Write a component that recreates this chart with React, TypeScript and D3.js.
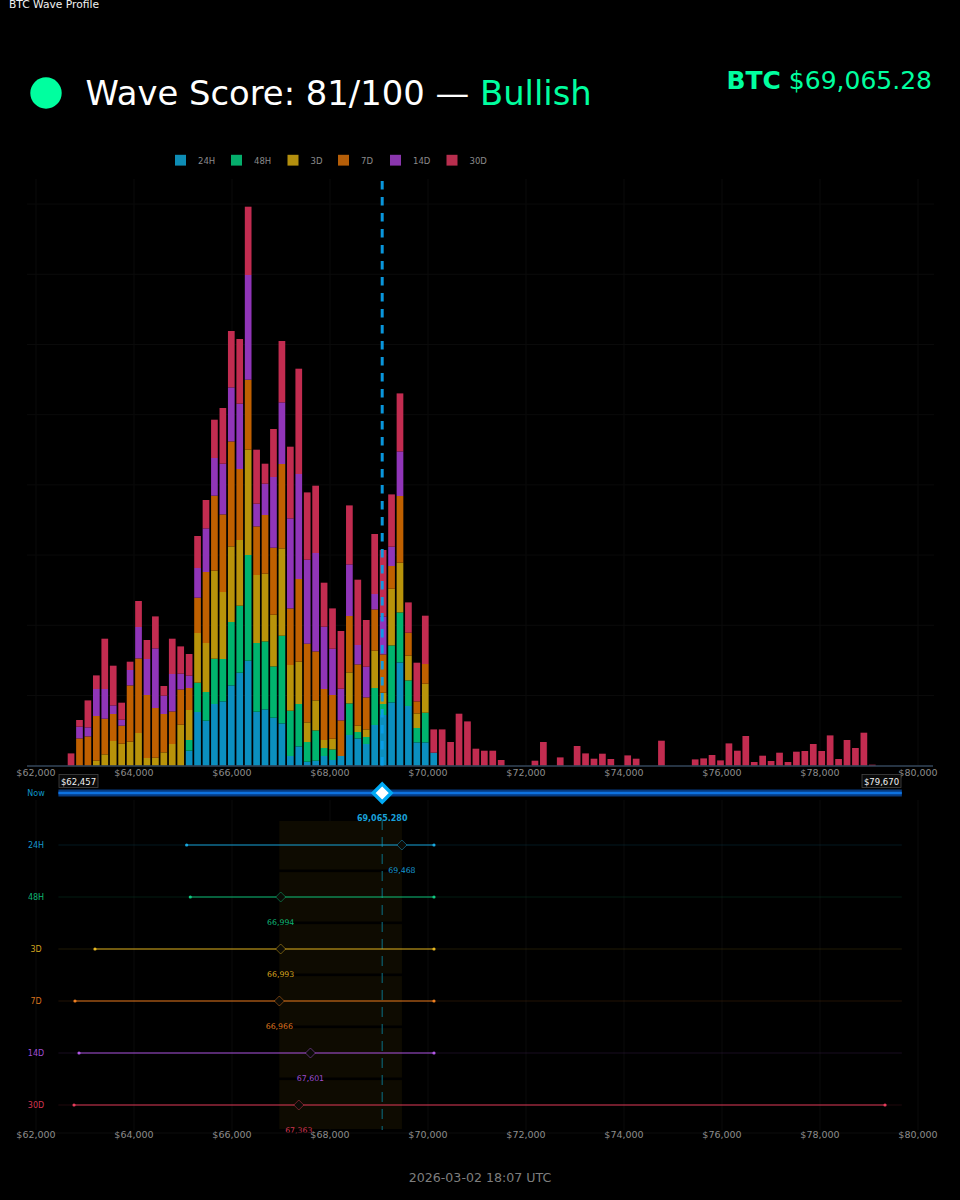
import React from "react";
import * as d3 from "d3";

// Profile bins: index 0..99, each bin = binWidth dollars from rangeLow
const rangeLow = 62457;
const rangeHigh = 79670;
const binCount = 100;
const currentPrice = 69065.28;

const seriesKeys = ["24H", "48H", "3D", "7D", "14D", "30D"];
const seriesColors = ["#0b8fbf", "#00b46e", "#b8930a", "#bf6000", "#9035b8", "#c22c50"];
const legendColors = ["#0e8db5", "#05ae6c", "#b38f0e", "#b55e08", "#8a36ad", "#b82e4e"];
const lineColors = ["#18a8e0", "#10c880", "#e8b820", "#f08020", "#b458e8", "#e83c5c"];

const v24H = [0,0,0,0,0,0,0,0,0,0,0,0,0,0,0,15,53.7,45,61.7,64.3,80.3,93,105,54,56.3,48,42.3,9.7,19.3,4,5,9.7,5.7,9.7,30.7,27.3,21.7,40.7,50.7,63.3,103.3,59.7,23.3,23.3,13];
const v48H = [0,0,0,0,0,0,0,0,0,0,0,0,0,0,0,10.7,29.3,28.7,45.3,42.4,63.4,67,105.7,68.7,68,51.3,87.7,45.3,42.4,19.7,30.3,8,10.6,0,31.6,6.4,7,37,11,57,50,25.6,14.4,29.7,0];
const v3D = [0,0,0,0,5,11.3,24.7,22,24,32.7,7.7,8,13.3,21.7,41,30,49.7,49,88,67,75.6,65.7,105.3,68,67.7,51.7,87.3,45.7,42.3,19.6,30,8,10.7,0,31,6.3,7.6,37.3,11.3,56.7,49.7,24.7,14.6,29,0];
const v7D = [0,0,27.3,29.3,44.7,35.7,27,18,56.3,74.6,63,49.7,38.4,32.6,35.3,22,35.3,71,75,77.6,105,71,70,48.6,58.7,67,84.4,56.6,82.7,78.7,49,51,43.7,35.6,56.4,61.3,32,41.3,38.3,22.7,66.7,23,12,19.7,0];
const v14D = [0,0,11.7,9,27,29.7,8.6,6,15.4,31.4,36,59.6,18.3,37.4,15.7,12.3,29.7,43.6,37.7,50.7,54,65.3,104.7,22.7,31.3,70.7,61.6,90,105,84,98.4,62.3,46.3,31.7,51.6,19.4,30.7,15.4,37.7,19.3,44.6,0,0,0,0];
const v30D = [0,12.3,6.7,27,13.6,50.3,39.7,17,8.3,26,19,32,9.7,35.3,27.3,21.7,32,28.4,38.3,55.7,56.4,64.7,68.3,54,20,48,61.4,71.7,105.3,67.3,67.3,44,40.3,57.7,59,65.3,46.7,60,66.7,52.3,58,30.3,38.7,48.3,23.3,36.3,23.7,52,44.3,17,15,15,5.7,0,0,0,5,23.7,0,8.3,0,19.7,12.3,7,12,6.7,0,10.3,7,0,0,25,0,0,0,6.3,7.3,10.7,5.3,22.3,15,29.7,3.7,10,4.7,13,3.7,14,14.7,21.7,14.7,30.3,6.7,25.7,17.7,33,1,0,0,0];
const seriesValues = [v24H, v48H, v3D, v7D, v14D, v30D];

const rowLabels = ["24H", "48H", "3D", "7D", "14D", "30D"];
const rowLows = [65075, 65149, 63204, 62796, 62878, 62776];
const rowHighs = [70122, 70122, 70122, 70122, 70122, 79327];
const rowPeaks = [69468, 66994, 66993, 66966, 67601, 67363];

const tickValues = [62000, 64000, 66000, 68000, 70000, 72000, 74000, 76000, 78000, 80000];
const yGridValues = [70.2, 140.4, 210.6, 280.8, 351, 421.2, 491.4, 561.6];

const money = d3.format("$,.0f");
const num0 = d3.format(",.0f");
const sans = "'DejaVu Sans', sans-serif";
const GREEN = "#00ff9f";

export default function App() {
  const x = d3.scaleLinear().domain([62000, 80000]).range([36, 918]);
  const y = d3.scaleLinear().domain([0, 586.7]).range([765.7, 179]);
  const rowY = d3.scalePoint<string>().domain(["Now", ...rowLabels]).range([793, 1105]);
  const binW = (x(rangeHigh) - x(rangeLow)) / binCount;
  const binIndex = d3.range(binCount);
  const rows = binIndex.map((i) => {
    const r: Record<string, number> = { i };
    seriesKeys.forEach((k, s) => (r[k] = seriesValues[s][i] ?? 0));
    return r;
  });
  const stacked = d3.stack<Record<string, number>>().keys(seriesKeys)(rows);
  const barX = (i: number) => x(rangeLow) + binW * (i + 0.5);
  const barWidth = 6.7;
  const diamond = (cx: number, cy: number, r: number) =>
    `M${cx},${cy - r}L${cx + r},${cy}L${cx},${cy + r}L${cx - r},${cy}Z`;

  const legendX = [175, 231, 287.5, 338, 390, 446.5];
  const nowX = x(currentPrice);

  return (
    <svg
      width={960}
      height={1200}
      style={{ position: "absolute", left: 0, top: 0, display: "block", background: "#000" }}
      fontFamily={sans}
    >
      <rect width={960} height={1200} fill="#000" />
      <text x={9} y={8} fontSize={10.7} fill="#f0f0f0">BTC Wave Profile</text>

      <circle cx={46} cy={93} r={15.7} fill={GREEN} />
      <text x={85.5} y={105} fontSize={33.8} fill="#fff">
        Wave Score: 81/100 — <tspan fill={GREEN}>Bullish</tspan>
      </text>
      <text x={932} y={89} fontSize={25} textAnchor="end" fill={GREEN}>
        <tspan fontWeight="bold">BTC</tspan> $69,065.28
      </text>

      {seriesKeys.map((k, i) => (
        <g key={k}>
          <rect x={legendX[i]} y={154.8} width={11} height={10.8} fill={legendColors[i]} />
          <text x={legendX[i] + 23} y={163.5} fontSize={8.5} fill="#8a8a8a">{k}</text>
        </g>
      ))}

      {/* upper grid */}
      {tickValues.map((t) => (
        <line key={t} x1={x(t)} x2={x(t)} y1={179} y2={766} stroke="#0b0b0b" />
      ))}
      {yGridValues.map((v) => (
        <line key={v} x1={27} x2={934} y1={y(v)} y2={y(v)} stroke="#0a0a0a" />
      ))}

      {/* stacked bars */}
      {stacked.map((layer, s) => (
        <g key={layer.key} fill={seriesColors[s]}>
          {layer.map((d, i) =>
            d[1] - d[0] > 0 ? (
              <rect key={i} x={barX(i) - barWidth / 2} width={barWidth} y={y(d[1])} height={y(d[0]) - y(d[1])} />
            ) : null
          )}
        </g>
      ))}

      <line x1={27} x2={933} y1={766} y2={766} stroke="#33465a" strokeWidth={1.3} />
      <line x1={nowX} x2={nowX} y1={181} y2={766} stroke="#0a9ee8" strokeOpacity={0.95} strokeWidth={3} strokeDasharray="8.5 7.5" />

      {tickValues.map((t) => (
        <text key={t} x={x(t)} y={775.5} fontSize={9.5} textAnchor="middle" fill="#8c8c8c">{money(t)}</text>
      ))}

      {/* lower grid */}
      {tickValues.map((t) => (
        <line key={t} x1={x(t)} x2={x(t)} y1={800} y2={1130} stroke="#0a0a0a" />
      ))}

      {/* consensus band */}
      <rect x={x(d3.min(rowPeaks)!)} width={x(d3.max(rowPeaks)!) - x(d3.min(rowPeaks)!)} y={821} height={308} fill="#0e0b01" />
      {rowLabels.slice(0, 5).map((k) => (
        <rect key={k} x={x(d3.min(rowPeaks)!) - 1} width={x(d3.max(rowPeaks)!) - x(d3.min(rowPeaks)!) + 2} y={rowY(k)! + 24.5} height={2.6} fill="#000" />
      ))}
      <line x1={nowX} x2={nowX} y1={820} y2={1130} stroke="#0a6070" strokeWidth={1.2} strokeDasharray="10 7" />

      {/* now row */}
      <text x={36} y={796} fontSize={8} textAnchor="middle" fill="#0e97c8">Now</text>
      <line x1={x(rangeLow)} x2={x(rangeHigh)} y1={793} y2={793} stroke="#063a80" strokeWidth={7} />
      <line x1={x(rangeLow)} x2={x(rangeHigh)} y1={793} y2={793} stroke="#0d72e0" strokeWidth={2.4} />
      <path d={diamond(nowX, 793, 9)} fill="#fff" stroke="#00aaf5" strokeWidth={3.4} />
      <text x={nowX} y={821} fontSize={8} fontWeight="bold" textAnchor="middle" fill="#1aa0d8">{d3.format(",.3f")(currentPrice)}</text>

      {[{ v: rangeLow, a: 59 }, { v: rangeHigh, a: 862 }].map(({ v, a }) => (
        <g key={v}>
          <rect x={a} y={774.5} width={39} height={13} fill="#0a0a0a" stroke="#444" strokeWidth={0.8} />
          <text x={a + 19.5} y={784.5} fontSize={8.5} textAnchor="middle" fill="#f2f2f2">{money(v)}</text>
        </g>
      ))}

      {/* rows */}
      {rowLabels.map((k, i) => {
        const cy = rowY(k)!;
        const c = lineColors[i];
        return (
          <g key={k}>
            <text x={36} y={cy + 3} fontSize={8} textAnchor="middle" fill={c} fillOpacity={0.9}>{k}</text>
            <line x1={x(rangeLow)} x2={x(rangeHigh)} y1={cy} y2={cy} stroke={c} strokeOpacity={0.14} />
            <line x1={x(rowLows[i])} x2={x(rowHighs[i])} y1={cy} y2={cy} stroke={c} strokeOpacity={0.9} strokeWidth={1.2} />
            <circle cx={x(rowLows[i])} cy={cy} r={1.6} fill={c} />
            <circle cx={x(rowHighs[i])} cy={cy} r={1.6} fill={c} />
            <path d={diamond(x(rowPeaks[i]), cy, 5)} fill="#0b0b06" stroke={c} strokeOpacity={0.45} strokeWidth={1} />
            <text x={x(rowPeaks[i])} y={cy + 28} fontSize={7.8} textAnchor="middle" fill={c} fillOpacity={0.9}>{num0(rowPeaks[i])}</text>
          </g>
        );
      })}

      <line x1={27} x2={934} y1={1133} y2={1133} stroke="#0c0c0c" />
      {tickValues.map((t) => (
        <text key={t} x={x(t)} y={1138} fontSize={9.5} textAnchor="middle" fill="#8c8c8c">{money(t)}</text>
      ))}

      <text x={480} y={1182} fontSize={12.6} textAnchor="middle" fill="#7e7e7e">2026-03-02 18:07 UTC</text>
    </svg>
  );
}
